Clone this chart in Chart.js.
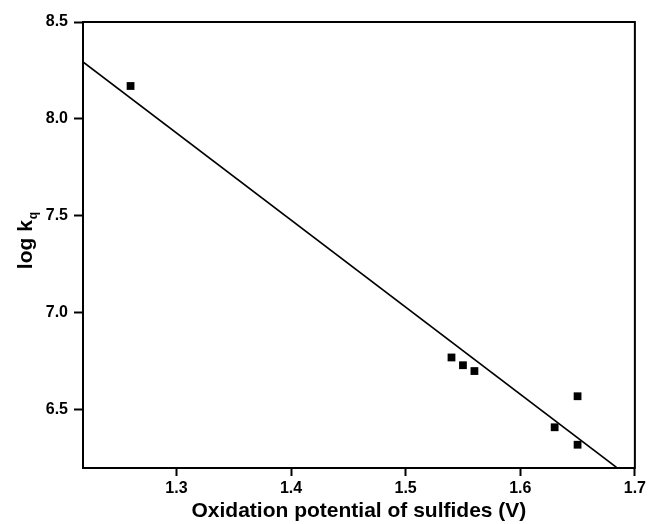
<!DOCTYPE html>
<html>
<head>
<meta charset="utf-8">
<script src="https://cdn.jsdelivr.net/npm/chart.js@4.4.1/dist/chart.umd.min.js"></script>
<style>
  html, body { margin: 0; padding: 0; background: #fff; }
  #wrap { width: 649px; height: 524px; }
</style>
</head>
<body>
<div id="wrap"><canvas id="chart" width="649" height="524"></canvas></div>
<script>
// Oxidation potential (V) vs log kq
const potentials = [1.26, 1.54, 1.55, 1.56, 1.63, 1.65, 1.65];
const logKq = [8.17, 6.77, 6.73, 6.70, 6.41, 6.57, 6.32];

// fitted straight line, end points where it meets the frame
const fitX = [1.2185, 1.684];
const fitY = [8.294, 6.203];

const xTicks = [1.3, 1.4, 1.5, 1.6, 1.7];
const yTicks = [6.5, 7.0, 7.5, 8.0, 8.5];

const FONT = "'Liberation Sans', Arial, sans-serif";

// frame around plot + y title with subscript q
const framePlugin = {
    id: 'frame',
    afterDraw(chart) {
        const ctx = chart.ctx;
        const a = chart.chartArea;
        ctx.save();
        ctx.strokeStyle = '#000';
        ctx.lineWidth = 2;
        ctx.strokeRect(a.left, a.top, a.right - a.left, a.bottom - a.top);

        // rotated y axis title "log kq"
        const cy = (a.top + a.bottom) / 2 - 4;
        ctx.translate(25, cy);
        ctx.rotate(-Math.PI / 2);
        ctx.fillStyle = '#000';
        ctx.textBaseline = 'alphabetic';
        ctx.font = 'bold 21px ' + FONT;
        const main = 'log k';
        const wMain = ctx.measureText(main).width;
        ctx.font = 'bold 12px ' + FONT;
        const wSub = ctx.measureText('q').width;
        const x0 = -(wMain + wSub) / 2;
        ctx.font = 'bold 21px ' + FONT;
        ctx.fillText(main, x0, 7);
        ctx.font = 'bold 12px ' + FONT;
        ctx.fillText('q', x0 + wMain + 1, 12);
        ctx.restore();
    }
};

const ctx = document.getElementById('chart').getContext('2d');
new Chart(ctx, {
    type: 'scatter',
    data: {
        datasets: [
            {
                label: 'data',
                data: potentials.map((x, i) => ({ x: x, y: logKq[i] })),
                pointStyle: 'rect',
                pointRadius: 5.5,
                pointBackgroundColor: '#000',
                pointBorderColor: '#000',
                pointBorderWidth: 0,
                showLine: false
            },
            {
                label: 'fit',
                type: 'line',
                data: fitX.map((x, i) => ({ x: x, y: fitY[i] })),
                borderColor: '#000',
                borderWidth: 1.6,
                pointRadius: 0,
                fill: false,
                tension: 0
            }
        ]
    },
    options: {
        responsive: false,
        animation: false,
        layout: { padding: { left: 0, right: 11, top: 22, bottom: 0 } },
        plugins: {
            legend: { display: false },
            tooltip: { enabled: false }
        },
        scales: {
            x: {
                type: 'linear',
                min: 1.2185,
                max: 1.7,
                afterBuildTicks: (scale) => { scale.ticks = xTicks.map(v => ({ value: v })); },
                afterFit: (scale) => { scale.height = 56; },
                border: { display: true, color: '#000', width: 2 },
                grid: { drawOnChartArea: false, drawTicks: true, tickLength: 8, tickColor: '#000', tickWidth: 2 },
                ticks: {
                    color: '#000',
                    padding: 3,
                    font: { family: FONT, size: 16, weight: 'bold' },
                    callback: (v) => Number(v).toFixed(1)
                },
                title: {
                    display: true,
                    text: 'Oxidation potential of sulfides (V)',
                    color: '#000',
                    padding: { top: 0, bottom: 0 },
                    font: { family: FONT, size: 21, weight: 'bold' }
                }
            },
            y: {
                type: 'linear',
                min: 6.2,
                max: 8.5,
                afterBuildTicks: (scale) => { scale.ticks = yTicks.map(v => ({ value: v })); },
                afterFit: (scale) => { scale.width = 83; },
                border: { display: true, color: '#000', width: 2 },
                grid: { drawOnChartArea: false, drawTicks: true, tickLength: 9, tickColor: '#000', tickWidth: 2 },
                ticks: {
                    color: '#000',
                    padding: 6,
                    font: { family: FONT, size: 16, weight: 'bold' },
                    callback: (v) => Number(v).toFixed(1)
                },
                title: { display: false }
            }
        }
    },
    plugins: [framePlugin]
});
</script>
</body>
</html>
